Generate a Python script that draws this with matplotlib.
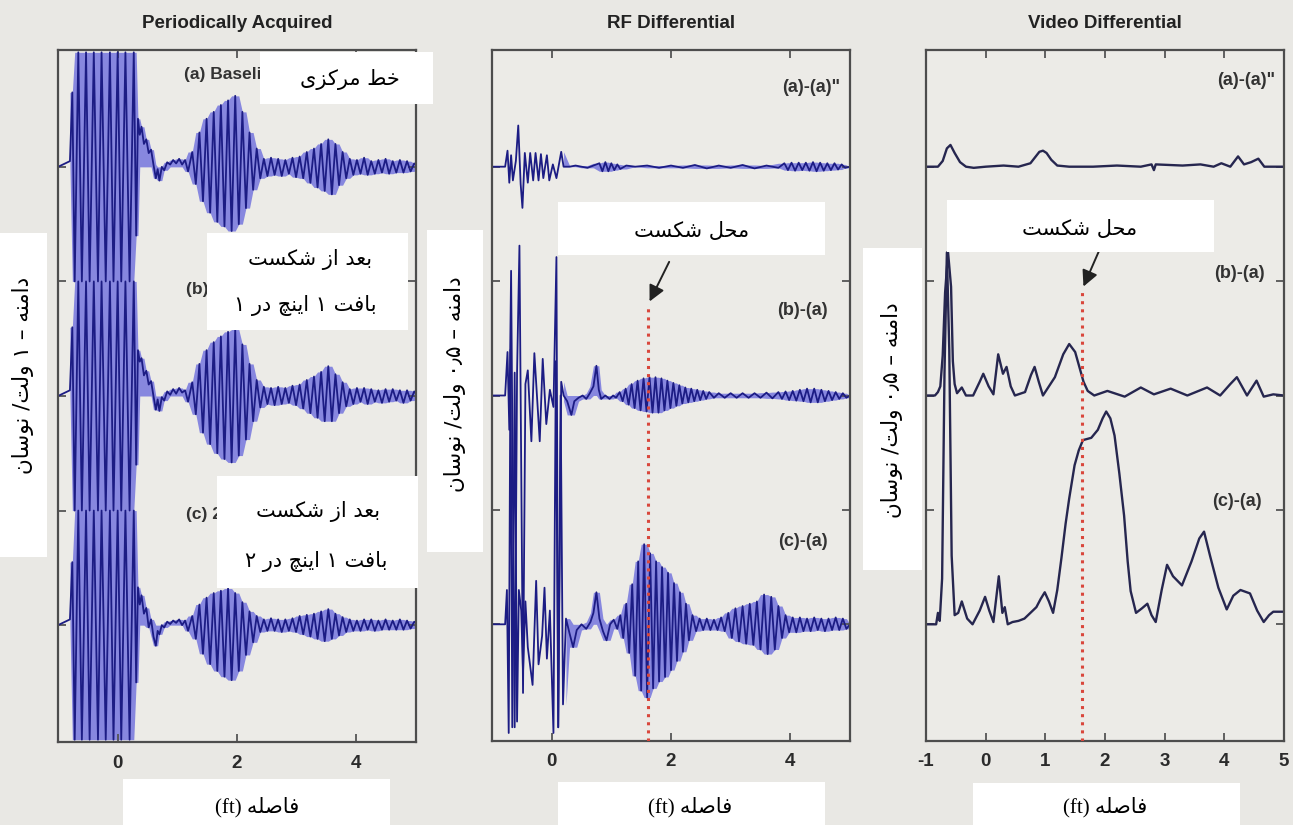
import numpy as np
import matplotlib
matplotlib.use("Agg")
import matplotlib.pyplot as plt
from matplotlib.patches import Rectangle

plt.rcParams['axes.unicode_minus'] = False

# ---------------- data (x in ft, y offset from trace baseline in divisions) -------------
titles = ["Periodically Acquired", "RF Differential", "Video Differential"]
xticks_rf = [0, 2, 4]
xticks_video = [-1, 0, 1, 2, 3, 4, 5]
baselines = [5, 3, 1]
break_x = 1.62

p1_x = [-1.00, -0.80, -0.76, -0.72, -0.66, -0.60, -0.53, -0.47, -0.40, -0.33,
        -0.27, -0.20, -0.13, -0.07, 0.00, 0.06, 0.13, 0.20, 0.27, 0.31,
        0.34, 0.37, 0.40, 0.44, 0.48, 0.52, 0.56, 0.60, 0.64, 0.67, 0.70,
        0.74, 0.78, 0.83, 0.88, 0.93, 0.98, 1.03, 1.08, 1.13, 1.18,
        1.25, 1.31, 1.37, 1.43, 1.49, 1.55, 1.61, 1.67, 1.73, 1.79,
        1.85, 1.91, 1.97, 2.03, 2.09, 2.15, 2.21, 2.27, 2.33, 2.39,
        2.45, 2.51, 2.57, 2.63, 2.69, 2.75, 2.81, 2.87, 2.93, 2.99, 3.05, 3.11,
        3.17, 3.23, 3.29, 3.35, 3.41, 3.47, 3.53, 3.59, 3.65, 3.71, 3.77, 3.83,
        3.89, 3.95, 4.01, 4.07, 4.13, 4.19, 4.25, 4.31, 4.37, 4.43,
        4.49, 4.55, 4.61, 4.67, 4.73, 4.79, 4.85, 4.91, 4.97, 5.00]

p1a_y = [0, 0.05, 0.65, -1, 1, -1, 1, -1, 1, -1, 1, -1, 1, -1, 1, -1, 1, -1, 1, -0.6,
         0.42, 0.28, 0.35, 0.20, 0.24, 0.12, 0.15, 0.02, -0.10, -0.02, -0.12,
         0.00, -0.03, 0.04, 0.02, 0.06, 0.03, 0.07, 0.02, 0.06, -0.04,
         0.13, -0.15, 0.30, -0.30, 0.42, -0.40, 0.48, -0.48, 0.54, -0.52,
         0.58, -0.56, 0.62, -0.50, 0.48, -0.36, 0.30, -0.20, 0.16, -0.10,
         0.07, -0.08, 0.08, -0.07, 0.07, -0.08, 0.06, -0.06, 0.08, -0.09, 0.09, -0.10,
         0.13, -0.14, 0.16, -0.18, 0.20, -0.21, 0.24, -0.24, 0.20, -0.16, 0.13, -0.10,
         0.07, -0.07, 0.06, -0.06, 0.08, -0.07, 0.05, -0.06, 0.06, -0.05,
         0.07, -0.06, 0.05, -0.05, 0.06, -0.05, 0.05, -0.04, 0.03, 0.02]

p1b_y = [0, 0.05, 0.60, -1, 1, -1, 1, -1, 1, -1, 1, -1, 1, -1, 1, -1, 1, -1, 1, -0.6,
         0.40, 0.30, 0.33, 0.18, 0.22, 0.10, 0.13, 0.00, -0.12, -0.03, -0.13,
         -0.01, -0.04, 0.04, 0.01, 0.06, 0.02, 0.07, 0.03, 0.05, -0.05,
         0.12, -0.16, 0.28, -0.32, 0.40, -0.42, 0.47, -0.50, 0.52, -0.55,
         0.56, -0.58, 0.58, -0.52, 0.45, -0.38, 0.28, -0.22, 0.14, -0.10,
         0.08, -0.07, 0.07, -0.08, 0.08, -0.07, 0.07, -0.06, 0.09, -0.08, 0.10, -0.11,
         0.14, -0.15, 0.17, -0.19, 0.21, -0.22, 0.26, -0.22, 0.19, -0.15, 0.12, -0.09,
         0.06, -0.07, 0.07, -0.05, 0.07, -0.07, 0.06, -0.05, 0.05, -0.06,
         0.06, -0.05, 0.06, -0.04, 0.05, -0.06, 0.05, -0.04, 0.04, 0.02]

p1c_y = [0, 0.05, 0.55, -1, 1, -1, 1, -1, 1, -1, 1, -1, 1, -1, 1, -1, 1, -1, 1, -0.5,
         0.33, 0.18, 0.26, 0.10, 0.15, -0.02, 0.05, -0.10, -0.18, -0.05, -0.08,
         0.00, -0.02, 0.03, 0.01, 0.04, 0.02, 0.05, 0.00, 0.04, -0.05,
         0.08, -0.12, 0.18, -0.25, 0.24, -0.34, 0.28, -0.40, 0.30, -0.45,
         0.32, -0.48, 0.28, -0.40, 0.20, -0.26, 0.12, -0.15, 0.08, -0.06,
         0.05, -0.05, 0.06, -0.05, 0.05, -0.06, 0.05, -0.05, 0.06, -0.06, 0.08, -0.08,
         0.09, -0.10, 0.10, -0.12, 0.12, -0.14, 0.14, -0.12, 0.10, -0.09, 0.07, -0.06,
         0.05, -0.05, 0.04, -0.05, 0.05, -0.04, 0.05, -0.05, 0.04, -0.04,
         0.05, -0.04, 0.04, -0.04, 0.05, -0.04, 0.04, -0.03, 0.03, 0.02]

p2a = [(-1.0, 0), (-0.78, 0), (-0.74, 0.14), (-0.71, -0.14), (-0.68, 0.10), (-0.65, -0.12),
       (-0.60, 0.05), (-0.56, 0.36), (-0.52, -0.15), (-0.49, -0.36), (-0.45, 0.12),
       (-0.40, -0.14), (-0.36, 0.12), (-0.31, -0.12), (-0.27, 0.12), (-0.22, -0.12),
       (-0.18, 0.11), (-0.14, -0.10), (-0.08, 0.10), (-0.04, -0.12), (0.02, 0.02),
       (0.08, -0.10), (0.16, 0.13), (0.20, 0.0), (0.30, 0.0), (0.40, 0.01), (0.50, 0.0),
       (0.60, -0.01), (0.70, 0.01), (0.80, 0.03), (0.85, -0.04), (0.90, 0.04), (0.95, -0.04),
       (1.00, 0.03), (1.05, -0.03), (1.10, 0.02), (1.15, -0.02), (1.25, 0.01), (1.4, 0.0),
       (1.6, 0.01), (1.8, -0.01), (2.0, 0.01), (2.2, -0.01), (2.4, 0.015), (2.6, -0.015),
       (2.8, 0.01), (3.0, -0.01), (3.2, 0.015), (3.4, -0.015), (3.6, 0.01), (3.8, -0.01),
       (3.90, 0.03), (3.96, -0.03), (4.02, 0.035), (4.08, -0.035), (4.14, 0.035),
       (4.20, -0.03), (4.26, 0.035), (4.32, -0.035), (4.38, 0.04), (4.44, -0.04),
       (4.50, 0.035), (4.56, -0.035), (4.62, 0.03), (4.68, -0.03), (4.74, 0.03),
       (4.80, -0.025), (4.86, 0.02), (4.92, -0.01), (5.0, 0.0)]

p2b = [(-1.0, 0), (-0.78, 0), (-0.74, 0.38), (-0.71, -0.30), (-0.68, 1.09), (-0.62, -2.9),
       (-0.58, 0.20), (-0.54, 1.31), (-0.48, -2.6), (-0.44, 0.10), (-0.40, 0.22),
       (-0.34, -0.40), (-0.29, 0.37), (-0.20, -0.40), (-0.15, 0.32), (-0.09, -0.25),
       (-0.03, 0.05), (0.03, -0.10), (0.08, 1.21), (0.11, -2.9), (0.16, 0.12), (0.20, 0.0),
       (0.26, -0.05), (0.33, -0.17), (0.38, -0.05), (0.45, -0.02), (0.52, 0.0), (0.58, -0.03),
       (0.64, 0.02), (0.70, 0.08), (0.75, 0.26), (0.79, 0.05), (0.83, -0.03), (0.90, 0.0),
       (0.97, -0.03), (1.03, 0.0), (1.08, -0.02), (1.14, 0.03), (1.19, -0.05), (1.24, 0.06),
       (1.29, -0.08), (1.34, 0.10), (1.39, -0.11), (1.44, 0.13), (1.49, -0.13), (1.54, 0.15),
       (1.59, -0.14), (1.64, 0.16), (1.69, -0.15), (1.74, 0.16), (1.79, -0.15), (1.84, 0.15),
       (1.89, -0.13), (1.94, 0.13), (1.99, -0.11), (2.04, 0.11), (2.09, -0.09), (2.14, 0.09),
       (2.19, -0.07), (2.24, 0.07), (2.29, -0.06), (2.34, 0.06), (2.39, -0.05), (2.44, 0.05),
       (2.49, -0.04), (2.54, 0.04), (2.59, -0.03), (2.64, 0.03), (2.72, -0.02), (2.80, 0.02),
       (2.90, -0.02), (3.0, 0.02), (3.1, -0.02), (3.2, 0.02), (3.3, -0.02), (3.4, 0.02),
       (3.5, -0.02), (3.6, 0.025), (3.7, -0.025), (3.8, 0.03), (3.86, -0.03), (3.92, 0.035),
       (3.98, -0.04), (4.04, 0.04), (4.10, -0.045), (4.16, 0.05), (4.22, -0.05), (4.28, 0.06),
       (4.34, -0.06), (4.40, 0.06), (4.46, -0.06), (4.52, 0.05), (4.58, -0.05), (4.64, 0.04),
       (4.70, -0.04), (4.76, 0.03), (4.82, -0.03), (4.88, 0.02), (4.94, -0.02), (5.0, 0.0)]

p2c = [(-1.0, 0), (-0.78, 0), (-0.75, 0.30), (-0.72, -0.95), (-0.69, 2.4), (-0.66, -0.9),
       (-0.62, 2.2), (-0.58, -0.85), (-0.55, 0.30), (-0.51, 0.12), (-0.48, -0.42),
       (-0.44, 0.20), (-0.40, -0.20), (-0.32, -0.53), (-0.26, 0.38), (-0.22, -0.35),
       (-0.16, -0.10), (-0.12, 0.32), (-0.08, -0.30), (-0.03, 0.12), (0.03, -0.95),
       (0.07, 2.3), (0.11, -0.9), (0.15, 2.0), (0.19, -0.7), (0.24, 0.05), (0.30, -0.08),
       (0.36, -0.20), (0.42, -0.05), (0.50, 0.0), (0.58, -0.04), (0.65, 0.02), (0.70, 0.10),
       (0.75, 0.28), (0.80, 0.05), (0.86, -0.06), (0.92, -0.14), (0.98, 0.0), (1.04, 0.04),
       (1.10, -0.04), (1.15, 0.08), (1.20, -0.12), (1.25, 0.18), (1.30, -0.25), (1.35, 0.35),
       (1.40, -0.45), (1.45, 0.55), (1.50, -0.58), (1.55, 0.70), (1.60, -0.64), (1.65, 0.62),
       (1.70, -0.56), (1.75, 0.55), (1.80, -0.50), (1.85, 0.50), (1.90, -0.46), (1.95, 0.45),
       (2.00, -0.40), (2.05, 0.36), (2.10, -0.32), (2.15, 0.28), (2.20, -0.24), (2.25, 0.18),
       (2.30, -0.14), (2.36, 0.08), (2.42, -0.06), (2.48, 0.05), (2.54, -0.05), (2.60, 0.05),
       (2.66, -0.05), (2.72, 0.04), (2.78, -0.05), (2.84, 0.06), (2.90, -0.06), (2.96, 0.10),
       (3.02, -0.12), (3.08, 0.14), (3.14, -0.15), (3.20, 0.16), (3.26, -0.17), (3.32, 0.18),
       (3.38, -0.18), (3.44, 0.20), (3.50, -0.22), (3.56, 0.26), (3.62, -0.26), (3.68, 0.24),
       (3.74, -0.22), (3.80, 0.16), (3.86, -0.12), (3.92, 0.08), (3.98, -0.07), (4.04, 0.06),
       (4.10, -0.07), (4.16, 0.06), (4.22, -0.06), (4.28, 0.05), (4.34, -0.06), (4.40, 0.06),
       (4.46, -0.05), (4.52, 0.05), (4.58, -0.06), (4.64, 0.05), (4.70, -0.05), (4.76, 0.06),
       (4.82, -0.05), (4.88, 0.05), (4.94, -0.04), (5.0, 0.0)]

p3a = [(-1.0, 0), (-0.80, 0.0), (-0.72, 0.05), (-0.65, 0.16), (-0.59, 0.19), (-0.52, 0.12),
       (-0.43, 0.04), (-0.33, 0.0), (-0.20, -0.01), (0.0, 0.0), (0.30, 0.01), (0.55, 0.0),
       (0.75, 0.03), (0.84, 0.09), (0.90, 0.13), (0.96, 0.14), (1.02, 0.12), (1.10, 0.06),
       (1.20, 0.01), (1.40, 0.0), (1.80, 0.0), (2.20, 0.01), (2.60, 0.0), (2.78, 0.02),
       (2.82, -0.03), (2.85, 0.02), (3.30, 0.01), (3.60, 0.02), (3.82, 0.0), (3.95, 0.03),
       (4.10, 0.0), (4.23, 0.09), (4.33, 0.02), (4.45, 0.04), (4.57, 0.07), (4.67, 0.0),
       (5.0, 0.0)]

p3b = [(-1.0, 0), (-0.85, 0.0), (-0.80, 0.03), (-0.76, 0.08), (-0.72, 0.35), (-0.68, 0.90),
       (-0.63, 1.25), (-0.58, 0.95), (-0.55, 0.30), (-0.52, 0.10), (-0.48, 0.02), (-0.40, 0.07),
       (-0.33, 0.0), (-0.21, 0.0), (-0.10, 0.12), (-0.04, 0.19), (0.05, 0.08), (0.13, 0.01),
       (0.21, 0.36), (0.29, 0.19), (0.35, 0.25), (0.42, 0.08), (0.49, 0.0), (0.66, 0.03),
       (0.76, 0.18), (0.82, 0.25), (0.89, 0.12), (0.96, 0.0), (1.16, 0.16), (1.30, 0.36),
       (1.40, 0.45), (1.50, 0.38), (1.57, 0.25), (1.64, 0.12), (1.71, 0.04), (1.82, 0.0),
       (2.04, 0.04), (2.33, -0.01), (2.60, 0.07), (2.82, 0.01), (3.10, 0.06), (3.38, 0.0),
       (3.71, 0.07), (3.93, 0.0), (4.10, 0.10), (4.21, 0.16), (4.38, 0.0), (4.54, 0.13),
       (4.66, -0.01), (4.82, 0.01), (5.0, 0.0)]

p3c = [(-1.0, 0), (-0.83, 0.0), (-0.80, 0.10), (-0.77, 0.03), (-0.73, 0.40), (-0.69, 2.2),
       (-0.65, 3.25), (-0.61, 2.4), (-0.57, 0.60), (-0.52, 0.08), (-0.46, 0.10), (-0.40, 0.20),
       (-0.31, 0.05), (-0.22, 0.0), (-0.10, 0.12), (-0.01, 0.24), (0.06, 0.12), (0.13, 0.02),
       (0.22, 0.42), (0.28, 0.10), (0.32, 0.15), (0.37, 0.0), (0.45, 0.02), (0.55, 0.03),
       (0.65, 0.05), (0.75, 0.10), (0.85, 0.15), (0.92, 0.22), (0.99, 0.28), (1.06, 0.20),
       (1.13, 0.10), (1.20, 0.30), (1.27, 0.58), (1.34, 0.88), (1.40, 1.10), (1.49, 1.39),
       (1.56, 1.52), (1.63, 1.61), (1.77, 1.63), (1.88, 1.70), (1.96, 1.80), (2.02, 1.86),
       (2.09, 1.80), (2.16, 1.65), (2.24, 1.32), (2.32, 0.95), (2.38, 0.55), (2.43, 0.29),
       (2.52, 0.10), (2.62, 0.14), (2.71, 0.18), (2.78, 0.08), (2.85, 0.02), (2.95, 0.30),
       (3.04, 0.52), (3.14, 0.42), (3.29, 0.34), (3.45, 0.55), (3.58, 0.75), (3.66, 0.81),
       (3.76, 0.60), (3.90, 0.32), (4.04, 0.13), (4.15, 0.25), (4.27, 0.30), (4.43, 0.27),
       (4.55, 0.12), (4.66, 0.02), (4.75, 0.08), (4.82, 0.11), (5.0, 0.11)]

p1_labels = ["(a) Baseline", "(b) 1 in.", "(c) 2 in."]
diff_labels = ["(a)-(a)\"", "(b)-(a)", "(c)-(a)"]

# ---------------- simple Persian shaping (presentation forms, visual order) -------------
FORMS = {
    'ا': (0xFE8D, 0xFE8E, None, None), 'ب': (0xFE8F, 0xFE90, 0xFE91, 0xFE92),
    'ت': (0xFE95, 0xFE96, 0xFE97, 0xFE98), 'ح': (0xFEA1, 0xFEA2, 0xFEA3, 0xFEA4),
    'خ': (0xFEA5, 0xFEA6, 0xFEA7, 0xFEA8), 'د': (0xFEA9, 0xFEAA, None, None),
    'ر': (0xFEAD, 0xFEAE, None, None), 'ز': (0xFEAF, 0xFEB0, None, None),
    'س': (0xFEB1, 0xFEB2, 0xFEB3, 0xFEB4), 'ش': (0xFEB5, 0xFEB6, 0xFEB7, 0xFEB8),
    'ص': (0xFEB9, 0xFEBA, 0xFEBB, 0xFEBC), 'ط': (0xFEC1, 0xFEC2, 0xFEC3, 0xFEC4),
    'ع': (0xFEC9, 0xFECA, 0xFECB, 0xFECC), 'ف': (0xFED1, 0xFED2, 0xFED3, 0xFED4),
    'ک': (0xFB8E, 0xFB8F, 0xFB90, 0xFB91), 'ل': (0xFEDD, 0xFEDE, 0xFEDF, 0xFEE0),
    'م': (0xFEE1, 0xFEE2, 0xFEE3, 0xFEE4), 'ن': (0xFEE5, 0xFEE6, 0xFEE7, 0xFEE8),
    'ه': (0xFEE9, 0xFEEA, 0xFEEB, 0xFEEC), 'و': (0xFEED, 0xFEEE, None, None),
    'ی': (0xFBFC, 0xFBFD, 0xFBFE, 0xFBFF), 'چ': (0xFB7A, 0xFB7B, 0xFB7C, 0xFB7D),
}
DIGITS = set('۰۱۲۳۴۵۶۷۸۹٫0123456789.')


def shape_word(w):
    if w and all(c in DIGITS for c in w):
        return w
    out = []
    for i, ch in enumerate(w):
        f = FORMS.get(ch)
        if f is None:
            out.append(ch)
            continue
        prev = w[i - 1] if i > 0 else None
        nxt = w[i + 1] if i + 1 < len(w) else None
        jp = prev in FORMS and FORMS[prev][2] is not None
        jn = nxt in FORMS and f[2] is not None
        if jp and jn:
            c = f[3]
        elif jp:
            c = f[1]
        elif jn:
            c = f[2]
        else:
            c = f[0]
        out.append(chr(c))
    return ''.join(reversed(out))


def fa(s):
    return ' '.join(shape_word(w) for w in reversed(s.split(' ')))


# ---------------- figure -----------------------------------------------------------------
W, H = 1293, 825
BG = '#e9e8e4'
fig = plt.figure(figsize=(W / 100, H / 100), dpi=100, facecolor=BG)


def fx(x):
    return x / W


def fy(y):
    return 1 - y / H


axes_px = [(58, 50, 416, 742), (492, 50, 850, 741), (926, 50, 1284, 741)]
axs = []
for i, (l, t, r, b) in enumerate(axes_px):
    ax = fig.add_axes([fx(l), fy(b), (r - l) / W, (b - t) / H])
    ax.set_facecolor('#ecebe7')
    ax.set_xlim(-1, 5)
    ax.set_ylim(-0.02, 6.02)
    ax.set_xticks(xticks_video if i == 2 else xticks_rf)
    ax.set_yticks([1, 2, 3, 4, 5])
    ax.set_yticklabels([])
    ax.tick_params(direction='in', top=True, right=True, length=6, width=1.3,
                   color='#555555', labelsize=13.5, pad=9, labelcolor='#2b2b2b')
    for lb in ax.get_xticklabels():
        lb.set_fontweight('bold')
        lb.set_family('Liberation Sans')
    for sp in ax.spines.values():
        sp.set_color('#4d4d4d')
        sp.set_linewidth(1.6)
    axs.append(ax)

LINE = '#1c1c84'
FILL = '#8787df'


def envelope(y):
    p = np.pad(np.asarray(y, float), 1, mode='edge')
    hi = np.maximum(np.maximum(p[:-2], p[1:-1]), p[2:]).clip(min=0)
    lo = np.minimum(np.minimum(p[:-2], p[1:-1]), p[2:]).clip(max=0)
    return lo, hi


# panel 1
ax = axs[0]
x1 = np.array(p1_x)
for base, ys in zip(baselines, [p1a_y, p1b_y, p1c_y]):
    ys = np.array(ys)
    lo, hi = envelope(ys)
    ax.fill_between(x1, base + lo, base + hi, where=x1 >= -0.8, color=FILL, lw=0, zorder=1)
    ax.plot(x1, base + ys, color=LINE, lw=1.3, zorder=2)
for lab, xx, yy in zip(p1_labels, [1.11, 1.14, 1.14], [5.81, 3.93, 1.97]):
    ax.text(xx, yy, lab, fontsize=12.5, fontweight='bold', color='#333333',
            family='Liberation Sans', va='center', ha='left', zorder=3)

# panel 2
ax = axs[1]
for base, tr in zip(baselines, [p2a, p2b, p2c]):
    xs = np.array([p[0] for p in tr])
    ys = np.array([p[1] for p in tr])
    lo, hi = envelope(ys)
    ax.fill_between(xs, base + lo, base + hi, where=xs >= 0.2, color=FILL, lw=0, zorder=1)
    ax.plot(xs, base + ys, color=LINE, lw=1.3, zorder=2)
ax.plot([break_x, break_x], [-0.02, 3.80], ls=':', color='#d9473c', lw=2.2, zorder=3)
ax.annotate('', xy=(break_x, 3.80), xytext=(1.99, 4.19),
            arrowprops=dict(arrowstyle='-|>', color='#222222', lw=1.4, mutation_scale=24),
            zorder=4)
for lab, xx, yy in zip(diff_labels, [4.83, 4.63, 4.63], [5.69, 3.74, 1.72]):
    ax.text(xx, yy, lab, fontsize=13, fontweight='bold', color='#333333',
            family='Liberation Sans', va='center', ha='right', zorder=3)

# panel 3
ax = axs[2]
for base, tr in zip(baselines, [p3a, p3b, p3c]):
    xs = np.array([p[0] for p in tr])
    ys = np.array([p[1] for p in tr])
    ax.plot(xs, base + ys, color='#26264f', lw=1.7, zorder=2, solid_joinstyle='round')
ax.plot([break_x, break_x], [-0.02, 3.93], ls=':', color='#d9473c', lw=2.2, zorder=3)
ax.annotate('', xy=(break_x, 3.93), xytext=(1.93, 4.30),
            arrowprops=dict(arrowstyle='-|>', color='#222222', lw=1.4, mutation_scale=24),
            zorder=4)
for lab, xx, yy in zip(diff_labels, [4.85, 4.68, 4.63], [5.75, 4.07, 2.07]):
    ax.text(xx, yy, lab, fontsize=13, fontweight='bold', color='#333333',
            family='Liberation Sans', va='center', ha='right', zorder=3)

# titles
for (l, t, r, b), title in zip(axes_px, titles):
    fig.text(fx((l + r) / 2), fy(23), title, ha='center', va='center', fontsize=13.5,
             fontweight='bold', color='#222222', family='Liberation Sans')

# ---------------- white overlay boxes with Persian text ----------------------------------
FA = ['DejaVu Sans']
MIX = ['Liberation Serif', 'DejaVu Sans']


def box(x0, y0, x1, y1):
    fig.add_artist(Rectangle((fx(x0), fy(y1)), (x1 - x0) / W, (y1 - y0) / H,
                             transform=fig.transFigure, facecolor='white',
                             edgecolor='none', zorder=10))


def ftext(cx, cy, s, size=15, rot=0, fam=FA):
    fig.text(fx(cx), fy(cy), s, ha='center', va='center', fontsize=size, rotation=rot,
             family=fam, color='black', zorder=11)


box(260, 52, 433, 104)
ftext(350, 79, fa('خط مرکزی'))

box(207, 233, 408, 330)
ftext(310, 260, fa('بعد از شکست'))
ftext(305, 305, fa('بافت ۱ اینچ در ۱'))

box(217, 476, 418, 588)
ftext(318, 512, fa('بعد از شکست'))
ftext(316, 562, fa('بافت ۱ اینچ در ۲'))

box(558, 202, 825, 255)
ftext(692, 231, fa('محل شکست'))
box(947, 200, 1214, 252)
ftext(1080, 229, fa('محل شکست'))

box(0, 233, 47, 557)
ftext(23, 375, fa('دامنه – ۱ ولت/ نوسان'), size=15.5, rot=90)
box(427, 230, 483, 552)
ftext(455, 384, fa('دامنه – ۰٫۵ ولت/ نوسان'), size=15.5, rot=90)
box(863, 248, 922, 570)
ftext(892, 410, fa('دامنه – ۰٫۵ ولت/ نوسان'), size=15.5, rot=90)

for (x0, x1, y0), cx in zip([(123, 390, 779), (558, 825, 782), (973, 1240, 783)],
                            [257, 690, 1105]):
    box(x0, y0, x1, 825)
    ftext(cx, 807, '(ft) ' + shape_word('فاصله'), size=15, fam=MIX)

fig.savefig('out.png', dpi=100, facecolor=BG)
